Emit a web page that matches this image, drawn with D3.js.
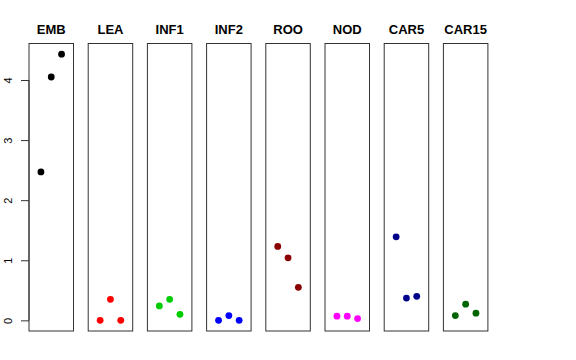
<!DOCTYPE html>
<html>
<head>
<meta charset="utf-8">
<script src="https://cdn.jsdelivr.net/npm/d3@7"></script>
<style>
  body { margin: 0; background: #fff; }
  svg { display: block; font-family: "Liberation Sans", Arial, sans-serif; }
  .title { font-weight: bold; font-size: 13px; text-anchor: middle; }
  .tick text { font-size: 11px; }
</style>
</head>
<body>
<svg id="chart" width="576" height="360"></svg>
<script>
let groups = ["EMB", "LEA", "INF1", "INF2", "ROO", "NOD", "CAR5", "CAR15"]
let colors = ["#000000", "#ff0000", "#00cd00", "#0000ff", "#8b0000", "#ff00ff", "#00008b", "#006400"]
// three replicate values per tissue, in plotting order
let values = [
  [2.47, 4.05, 4.43],
  [0.00, 0.35, 0.00],
  [0.24, 0.35, 0.10],
  [0.00, 0.08, 0.00],
  [1.23, 1.04, 0.55],
  [0.07, 0.07, 0.03],
  [1.39, 0.37, 0.40],
  [0.08, 0.27, 0.12]
]
let yTicks = [0, 1, 2, 3, 4]

let width = 576,
    height = 360,
    margins = {left: 29, top: 43.5, bottom: 29}
let panelW = 44.5,
    pitch = 59.2

let svg = d3.select("#chart")

// same y scale for every panel, R style 4% padding
let ymax = d3.max(values.flat()), ymin = d3.min(values.flat())
let pad = (ymax - ymin) * 0.04
let y = d3.scaleLinear()
  .domain([ymin - pad, ymax + pad])
  .range([height - margins.bottom, margins.top])

let x = d3.scaleLinear()
  .domain([-0.16, 4.16])
  .range([0, panelW])

let panel = d3.scaleBand()
  .domain(groups)
  .range([margins.left, margins.left + pitch * (groups.length - 1) + panelW])
  .paddingInner((pitch - panelW) / pitch)
  .paddingOuter(0)

let g = svg.selectAll("g.panel")
  .data(groups).enter()
  .append("g")
  .attr("class", "panel")
  .attr("transform", d => `translate(${panel(d)},0)`)

g.append("rect")
  .attr("x", 0)
  .attr("y", y.range()[1])
  .attr("width", panel.bandwidth())
  .attr("height", y.range()[0] - y.range()[1])
  .attr("fill", "none")
  .attr("stroke", "#333")
  .attr("stroke-width", 1)

g.append("text")
  .attr("class", "title")
  .attr("x", panel.bandwidth() / 2)
  .attr("y", 34)
  .text(d => d)

g.selectAll("circle")
  .data((d, i) => values[i].map(v => ({v: v, c: colors[i]})))
  .enter()
  .append("circle")
  .attr("cx", (d, j) => x(j + 1))
  .attr("cy", d => y(d.v))
  .attr("r", 3.4)
  .attr("fill", d => d.c)

// y axis
let yAxis = svg.append("g")
  .attr("transform", `translate(${margins.left},0)`)
  .call(d3.axisLeft(y).tickValues(yTicks).tickSize(8).tickFormat(d3.format("d")))
yAxis.select(".domain").remove()
yAxis.selectAll(".tick line").attr("stroke", "#333")
yAxis.selectAll(".tick text")
  .attr("x", null)
  .attr("dy", null)
  .attr("text-anchor", "middle")
  .attr("transform", "translate(-17,0) rotate(-90)")
  .attr("fill", "#000")
yAxis.append("line")
  .attr("x1", 0).attr("x2", 0)
  .attr("y1", y(0)).attr("y2", y(4))
  .attr("stroke", "#333")
</script>
</body>
</html>
